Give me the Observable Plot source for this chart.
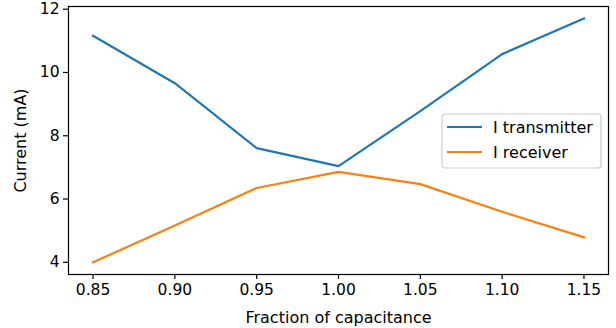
<!DOCTYPE html>
<html>
<head>
<meta charset="utf-8">
<script src="https://cdn.jsdelivr.net/npm/d3@7"></script>
<script src="https://cdn.jsdelivr.net/npm/@observablehq/plot@0.6"></script>
<style>
  html, body { margin: 0; padding: 0; background: #fff; }
  #chart { position: relative; width: 616px; height: 328px; }
  svg { font-family: "DejaVu Sans", sans-serif; }
</style>
</head>
<body>
<div id="chart"></div>
<script>
const fractions = [0.85, 0.90, 0.95, 1.00, 1.05, 1.10, 1.15];
const iTransmitter = [11.16, 9.66, 7.61, 7.04, 8.78, 10.58, 11.71];
const iReceiver = [4.00, 5.16, 6.35, 6.86, 6.47, 5.60, 4.79];
const seriesNames = ["I transmitter", "I receiver"];
const seriesColors = ["#1f77b4", "#ff7f0e"];
const xTicks = [0.85, 0.90, 0.95, 1.00, 1.05, 1.10, 1.15];
const yTicks = [4, 6, 8, 10, 12];
const xLabel = "Fraction of capacitance";
const yLabel = "Current (mA)";

const seriesValues = [iTransmitter, iReceiver];
const rows = [];
seriesNames.forEach((name, si) => {
  fractions.forEach((f, i) => rows.push({series: name, x: f, y: seriesValues[si][i]}));
});

const tickFont = 15.5;
const labelFont = 16;
const plot = Plot.plot({
  width: 616,
  height: 328,
  marginLeft: 68,
  marginRight: 8,
  marginTop: 6,
  marginBottom: 54,
  style: {fontFamily: "DejaVu Sans, sans-serif", fontSize: tickFont + "px", color: "#000", background: "#fff"},
  x: {domain: [0.835, 1.165], ticks: xTicks, tickFormat: d3.format(".2f"), label: null},
  y: {domain: [3.615, 12.085], ticks: yTicks, tickFormat: d => String(d), label: null},
  color: {domain: seriesNames, range: seriesColors},
  marks: [
    Plot.axisX({ticks: xTicks, tickFormat: d3.format(".2f"), tickSize: 5, tickPadding: 4, stroke: "#000", strokeWidth: 1.2, fontSize: tickFont, label: null}),
    Plot.axisY({ticks: yTicks, tickSize: 5, tickPadding: 4, stroke: "#000", strokeWidth: 1.2, fontSize: tickFont, label: null}),
    Plot.line(rows, {x: "x", y: "y", z: "series", stroke: "series", strokeWidth: 2.2, strokeLinejoin: "miter", strokeLinecap: "square"}),
    Plot.frame({stroke: "#000", strokeWidth: 1.2}),
    Plot.text([xLabel], {frameAnchor: "bottom", dy: 43, fontSize: labelFont, fill: "#000", textAnchor: "middle", lineAnchor: "middle"}),
    Plot.text([yLabel], {frameAnchor: "left", dx: -48, rotate: -90, fontSize: labelFont, fill: "#000", textAnchor: "middle", lineAnchor: "middle"})
  ]
});
document.getElementById("chart").appendChild(plot);

// Legend (matplotlib-style box) built from series arrays
const svg = d3.select(plot);
const lg = svg.append("g").attr("transform", "translate(442,114)");
lg.append("rect").attr("x", 0).attr("y", 0).attr("width", 159).attr("height", 54)
  .attr("rx", 3).attr("fill", "#fff").attr("fill-opacity", 0.8).attr("stroke", "#cccccc").attr("stroke-width", 1.2);
seriesNames.forEach((name, i) => {
  const cy = 13 + i * 25;
  lg.append("line").attr("x1", 5).attr("x2", 40).attr("y1", cy).attr("y2", cy)
    .attr("stroke", seriesColors[i]).attr("stroke-width", 2.2);
  lg.append("text").attr("x", 51).attr("y", cy).attr("dy", "0.36em")
    .attr("text-anchor", "start").attr("font-family", "DejaVu Sans, sans-serif")
    .attr("font-size", labelFont).attr("fill", "#000").text(name);
});
</script>
</body>
</html>
